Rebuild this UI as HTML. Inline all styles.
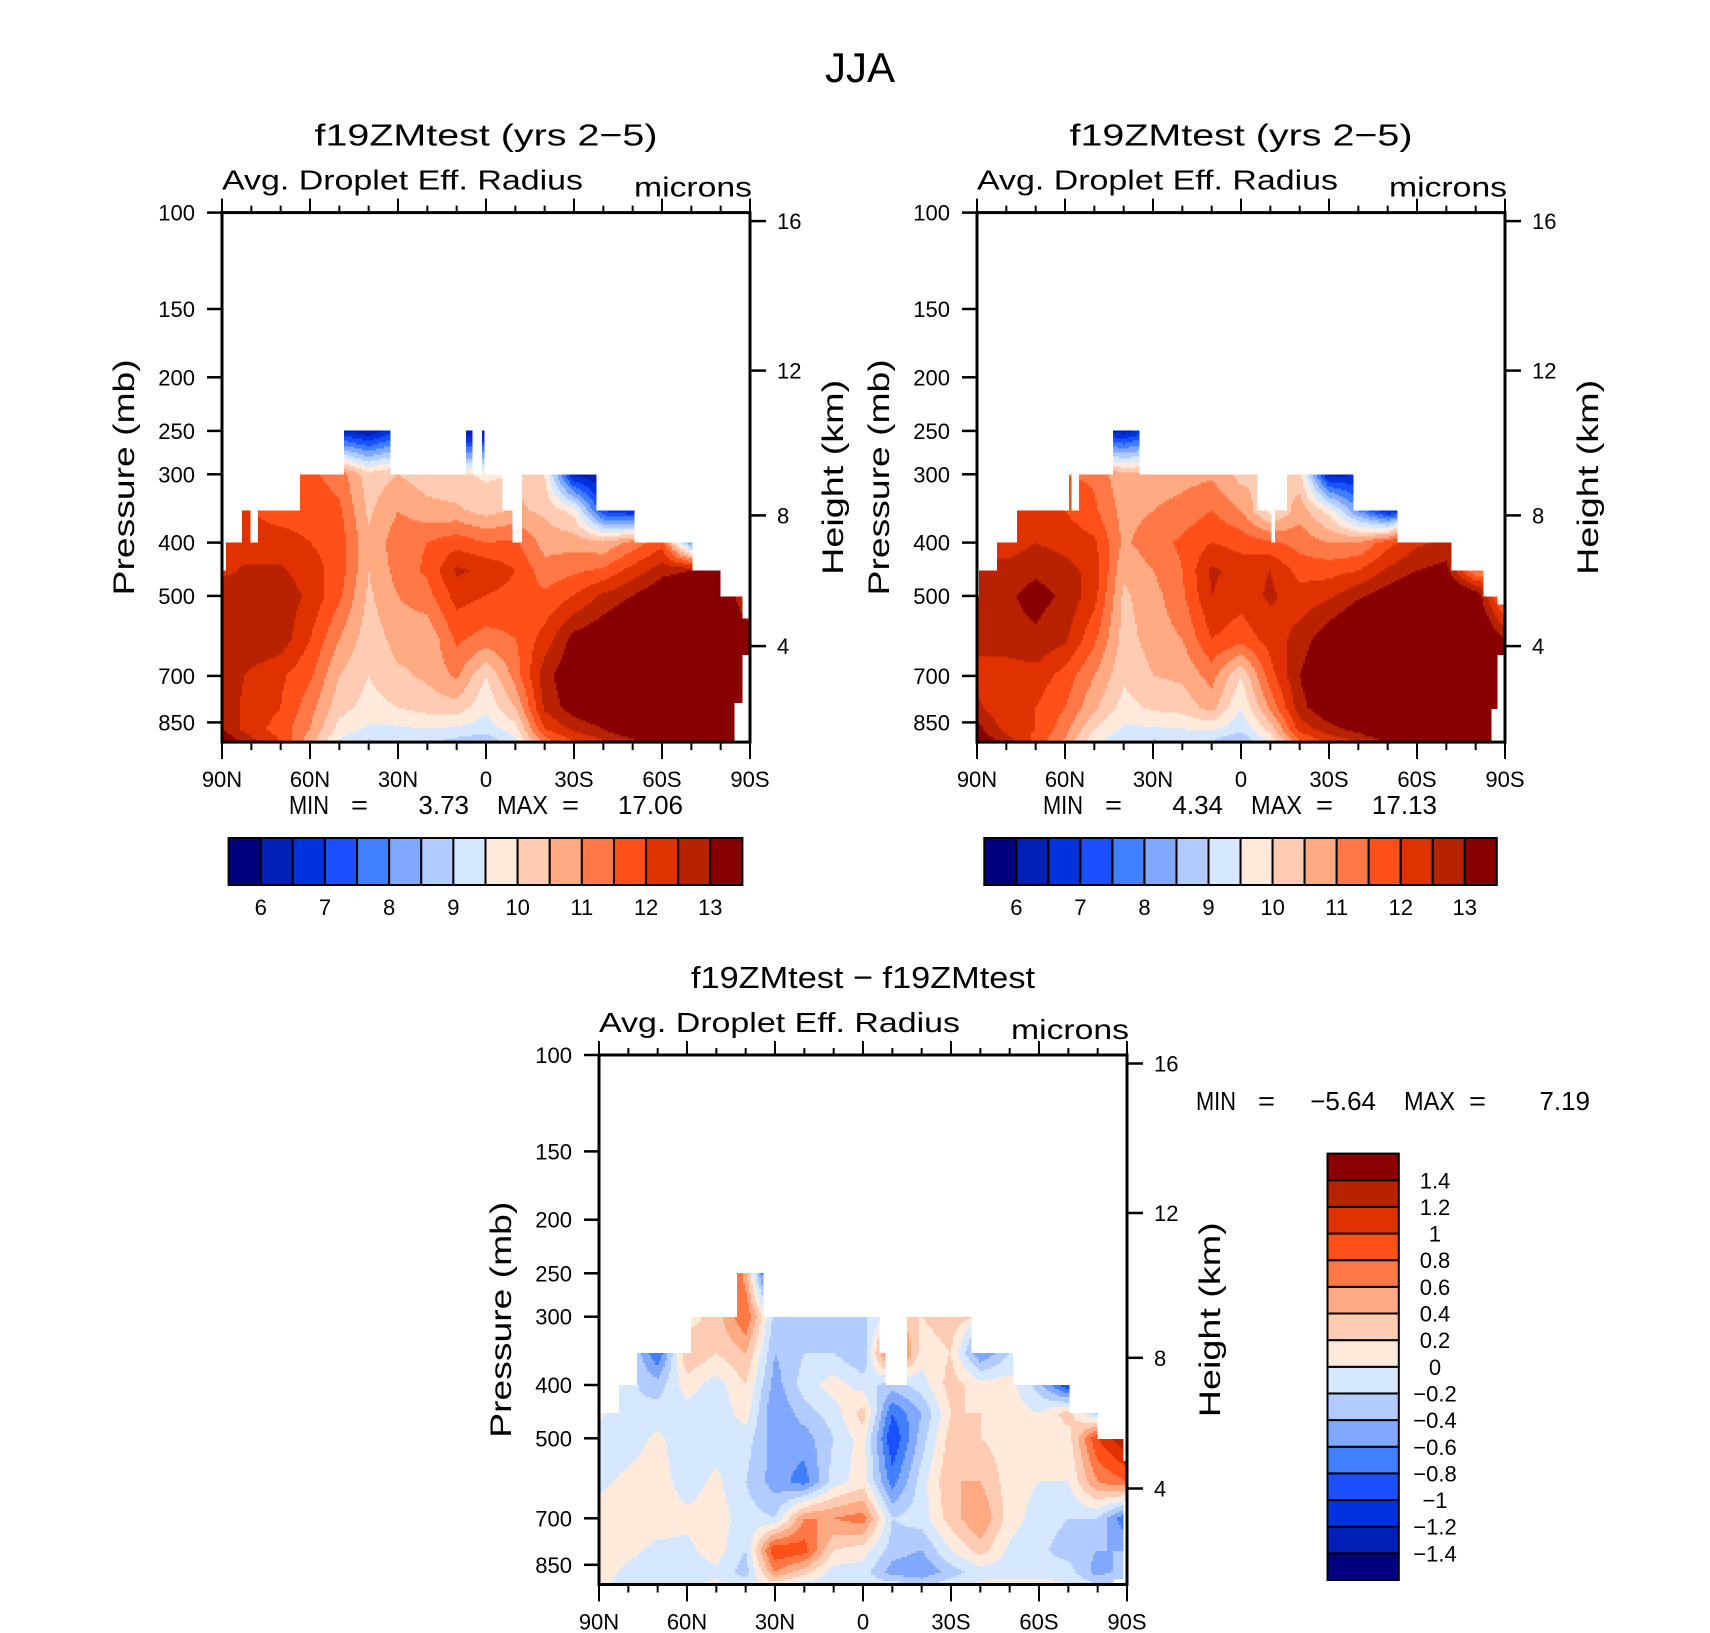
<!DOCTYPE html>
<html><head><meta charset="utf-8"><style>
html,body{margin:0;padding:0;background:#fff;}
svg{display:block;font-family:"Liberation Sans",sans-serif;}
</style></head><body>
<svg id="fig" xmlns="http://www.w3.org/2000/svg" width="1710" height="1633" viewBox="0 0 1710 1633">
<rect x="0" y="0" width="1710" height="1633" fill="#fff"/>
<text x="860" y="82" font-size="42" text-anchor="middle">JJA</text>
</svg>
<script>
const NS="http://www.w3.org/2000/svg";
const svg=document.getElementById('fig');
const n=null;
const LATS=[90,80,70,60,50,40,30,20,10,0,-10,-20,-30,-40,-50,-60,-70,-80,-90];
const LEVELS=[250,300,350,400,450,500,600,700,800,900,1000];
const P_TICKS=[100,150,200,250,300,400,500,700,850];
const KM_TICKS=[16,12,8,4];
const LAT_MAJOR=[90,60,30,0,-30,-60,-90];
const LAT_LABELS=['90N','60N','30N','0','30S','60S','90S'];
const COLORS=['#00007f','#0020b8','#0033dd','#1a50ff','#4080ff','#80a8ff','#b3ccff','#d5e8ff','#ffeadc','#ffcbb2','#ffaa82','#ff7845','#ff501a','#e03200','#b82200','#880000'];
const BOUNDS_ABS=[6,6.5,7,7.5,8,8.5,9,9.5,10,10.5,11,11.5,12,12.5,13];
const CB_ABS_LABELS=['6','7','8','9','10','11','12','13'];
const BOUNDS_DIFF=[-1.4,-1.2,-1,-0.8,-0.6,-0.4,-0.2,0,0.2,0.4,0.6,0.8,1,1.2,1.4];
const CB_DIFF_LABELS=['−1.4','−1.2','−1','−0.8','−0.6','−0.4','−0.2','0','0.2','0.4','0.6','0.8','1','1.2','1.4'];
const P1_VALUES=[
[n,n,n,n,12.4,12.8,12.8,12.8,12.8,13.0,13.5],
[n,n,12.0,12.2,12.6,12.8,12.9,12.4,12.3,12.2,12.7],
[n,n,11.8,12.2,12.6,12.8,12.8,12.1,12.0,11.8,12.0],
[n,11.6,11.8,12.0,12.2,12.4,12.0,11.6,11.2,11.0,10.7],
[6.5,11.3,11.6,11.8,11.8,11.6,11.0,10.5,10.2,9.8,9.4],
[6.0,10.2,10.4,10.6,10.5,10.4,10.2,10.0,9.8,9.4,8.9],
[7.0,10.5,11.0,11.3,11.2,11.0,10.7,10.4,10.0,9.4,9.0],
[n,10.2,10.7,11.5,11.6,11.3,10.6,10.6,10.2,9.5,9.0],
[6.0,10.1,10.6,11.8,12.6,12.2,11.6,11.1,10.3,9.4,8.8],
[6.0,9.9,10.3,11.5,12.4,12.0,11.3,10.0,9.6,9.2,8.6],
[n,n,10.6,11.6,12.0,11.8,11.5,11.2,10.5,9.8,9.3],
[n,10.0,10.4,10.8,11.2,11.6,12.2,12.8,12.6,12.0,11.2],
[n,6.3,9.8,10.8,11.4,12.0,13.2,13.5,13.3,12.6,12.0],
[n,6.0,7.0,10.6,11.6,12.6,13.5,13.8,13.6,13.0,12.4],
[n,n,6.5,11.2,12.2,13.0,14,14,14,13.6,12.8],
[n,n,n,11.8,12.8,13.5,14,14,14,14,13.5],
[n,n,n,8.0,13.0,14,14,14,14,14,14],
[n,n,n,n,13.5,14,14,14,14,14,14],
[n,n,n,n,n,12.0,13.5,14,14,14,14]];
const P1_MASK=[[90,88.3,450,1000],[88.3,83.4,400,1000],[83.4,80.7,350,1000],[80.7,77.8,400,1000],[77.8,63.3,350,1000],[63.3,48.4,300,1000],[48.4,32.4,250,1000],[32.4,6.8,300,1000],[6.8,5,250,1000],[5,1.6,300,1000],[1.6,0.4,250,1000],[0.4,-5.3,300,1000],[-5.3,-9.1,350,1000],[-9.1,-12.6,400,1000],[-12.6,-37.4,300,1000],[-37.4,-50.7,350,1000],[-50.7,-70.5,400,1000],[-70.5,-80,450,1000],[-80,-84.7,500,1000],[-84.7,-87.4,500,780],[-87.4,-90.1,550,640]];
const P1_STATS=['3.73','17.06'];
const P2_VALUES=[
[n,n,n,n,12.5,12.8,12.6,12.4,12.6,13.2,13.5],
[n,n,n,12.2,12.7,12.9,12.8,12.2,12.1,12.3,12.8],
[n,n,12.2,12.5,12.9,13.2,12.9,12.3,12.0,12.0,11.8],
[n,n,12.0,12.3,12.7,12.9,12.6,11.8,11.5,11.2,10.9],
[6.5,11.4,11.6,12.1,12.3,12.2,11.6,11.0,10.6,10.0,9.6],
[6.2,10.6,10.8,10.9,10.6,10.4,10.3,10.1,9.8,9.4,9.0],
[7.0,10.7,11.0,11.3,11.0,10.8,10.7,10.5,10.1,9.4,8.9],
[n,10.8,11.2,11.6,11.5,11.4,11.0,10.6,10.2,9.5,8.9],
[n,10.9,11.5,12.0,12.6,12.5,12.0,11.2,10.7,9.6,8.9],
[n,10.3,11.0,11.8,12.3,12.2,11.7,10.0,9.5,9.1,8.5],
[n,n,9.8,11.6,12.5,12.6,12.2,11.8,11.1,10.2,9.6],
[n,10.2,10.8,11.3,11.8,12.2,12.7,13.0,12.8,12.2,11.4],
[n,6.3,9.8,11.0,11.8,12.4,13.4,13.8,13.5,12.8,12.1],
[n,6.5,8.0,11.0,12.0,12.9,14,14,13.8,13.2,12.5],
[n,n,6.5,11.8,12.6,13.3,14,14,14,13.8,13.0],
[n,n,n,12.4,13.0,13.8,14,14,14,14,13.6],
[n,n,n,12.6,13.2,14,14,14,14,14,14],
[n,n,n,n,11.0,13.5,14,14,14,14,14],
[n,n,n,n,n,11.0,13.0,14,14,14,14]];
const P2_MASK=[[90,89.1,500,1000],[89.1,83.5,450,1000],[83.5,76.7,400,1000],[76.7,58.9,350,1000],[58.9,58,300,1000],[58,55.2,350,1000],[55.2,43.8,300,1000],[43.8,34.9,250,1000],[34.9,-5.3,300,1000],[-5.3,-10.3,350,1000],[-10.3,-11.8,400,1000],[-11.8,-15.8,350,1000],[-15.8,-38.2,300,1000],[-38.2,-53.4,350,1000],[-53.4,-71.3,400,1000],[-71.3,-82.6,450,1000],[-82.6,-85.5,500,1000],[-85.5,-87.5,500,800],[-87.5,-90.1,520,640]];
const P2_STATS=['4.34','17.13'];
const P3_VALUES=[
[n,n,n,n,0.05,-0.1,-0.05,0.1,0.15,0.1,0.05],
[n,n,-0.1,-0.15,-0.2,-0.1,0.05,0.1,0.05,-0.05,-0.1],
[n,n,-0.8,-0.3,-0.1,0.05,0.1,0.1,-0.05,-0.1,-0.1],
[n,0.1,0.4,0.1,-0.1,-0.15,-0.1,0.05,-0.05,-0.1,-0.05],
[1.4,0.3,0.2,-0.1,-0.15,-0.1,0.05,0.1,0.1,-0.05,0.05],
[0.5,0.8,0.4,0.2,0.1,-0.1,-0.2,-0.1,-0.2,-0.3,-0.1],
[-1.5,-0.3,-0.4,-0.5,-0.6,-0.5,-0.5,-0.2,1.0,0.6,0.1],
[n,-0.4,-0.2,-0.1,-0.3,-0.5,-0.7,0.6,0.9,0.3,-0.1],
[n,-0.3,-0.2,0.1,-0.1,-0.2,-0.1,0.6,0.2,-0.1,-0.1],
[n,-0.2,-0.4,-0.1,0.3,0.1,0.1,0.7,0.1,-0.1,-0.1],
[n,n,1.0,-0.3,-0.8,-1.0,-0.7,-0.2,-0.3,-0.5,-0.1],
[n,0.2,0.1,-0.1,-0.4,-0.3,-0.1,-0.1,-0.4,-0.6,-0.2],
[n,0.3,0.2,0.3,0.2,0.3,0.4,0.3,0.0,-0.3,-0.1],
[n,n,-0.6,0.1,0.2,0.2,0.4,0.6,0.3,-0.1,0.05],
[n,n,-0.2,0.1,0.1,0.1,0.1,0.1,-0.05,-0.1,0.1],
[n,n,n,-0.3,0.0,0.1,0.0,-0.1,-0.15,-0.1,0.1],
[n,n,n,-1.0,0.3,0.1,0.0,-0.2,-0.3,-0.1,0.0],
[n,n,n,n,-0.3,1.0,0.6,-0.2,-0.4,-0.5,-0.2],
[n,n,n,n,n,1.4,0.8,-0.8,-0.4,-0.3,-0.2]];
const P3_MASK=[[90,83.5,450,1000],[83.5,77,400,1000],[77,58.7,350,1000],[58.7,43,300,1000],[43,34.4,250,1000],[34.4,-5.2,300,1000],[-5.2,-7.8,350,1000],[-7.8,-14.9,400,1000],[-14.9,-37,300,1000],[-37,-50.9,350,1000],[-50.9,-70.4,400,1000],[-70.4,-79.6,450,1000],[-79.6,-85,500,1000],[-85,-88.7,500,960],[-88.7,-90.1,550,650]];
const P3_STATS=['−5.64','7.19'];

const W=528,H=529.5;
function el(tag,attrs,parent){const e=document.createElementNS(NS,tag);for(const k in attrs)e.setAttribute(k,attrs[k]);(parent||svg).appendChild(e);return e;}
function yOfP(p){const P=[100,150,200,250,300,400,500,700,850,1000],O=[0,96.4,164.7,218.3,261.7,330,383.3,463.3,509.8,529.5];
 for(let i=0;i<P.length-1;i++){if(p<=P[i+1]){const t=(Math.log(p)-Math.log(P[i]))/(Math.log(P[i+1])-Math.log(P[i]));return O[i]+t*(O[i+1]-O[i]);}}return H;}
function yOfKm(k){const K=[16,12,8,4],O=[8.5,158,302.8,433.5];const i=K.indexOf(k);return O[i];}
function xOfLat(lat){return (90-lat)/180*W;}
const YL=LEVELS.map(yOfP);
function valueAt(vals,lat,yr){
 let ci=(90-lat)/10;let i0=Math.min(17,Math.max(0,Math.floor(ci)));let tx=Math.min(1,Math.max(0,ci-i0));
 let k=0,ty=0;
 if(yr<=YL[0]){k=0;ty=0;}else{for(k=0;k<YL.length-2;k++){if(yr<=YL[k+1])break;}ty=Math.min(1,(yr-YL[k])/(YL[k+1]-YL[k]));}
 const c=[[vals[i0][k],(1-tx)*(1-ty)],[vals[i0+1][k],tx*(1-ty)],[vals[i0][k+1],(1-tx)*ty],[vals[i0+1][k+1],tx*ty]];
 let s=0,w=0;for(const [v,wt] of c){if(v!==null){s+=v*wt;w+=wt;}}
 if(w<1e-6){for(const [v] of c){if(v!==null)return v;}return null;}return s/w;}
function maskAt(mask,lat){for(const m of mask){if(lat<=m[0]&&lat>m[1])return m;}return mask[mask.length-1];}
function colorIdx(v,bounds){let i=0;while(i<bounds.length&&v>=bounds[i])i++;return i;}

function drawField(x0,y0,vals,mask,bounds,name){
 const g=el('g',{'shape-rendering':'crispEdges'});
 
 
 const step=2,cols=W/step;
 for(let py=0;py<H;py+=step){
  const yr=py+step/2;let runStart=0,runC=null;
  const rowC=[];
  for(let c=0;c<cols;c++){const lat=90-(c*step+step/2)/W*180;const m=maskAt(mask,lat);
   let ci=null;if(yr>=yOfP(m[2])&&yr<=yOfP(m[3])){const v=valueAt(vals,lat,yr);if(v!==null)ci=colorIdx(v,bounds);}rowC.push(ci);}
  rowC.push('end');
  for(let c=0;c<=cols;c++){if(rowC[c]!==runC){if(runC!==null&&runC!=='end'){
     const r=el('rect',{x:x0+runStart*step,y:y0+py,width:(c-runStart)*step+0.4,height:step+0.4,fill:COLORS[runC]},g);
     
     }
    runStart=c;runC=rowC[c];}}
 }
}
function txt(s,x,y,size,anchor,name,len){const t=el('text',{x:x,y:y,'font-size':size,'text-anchor':anchor||'start'});if(len){t.setAttribute('textLength',len);t.setAttribute('lengthAdjust','spacingAndGlyphs');}t.textContent=s;return t;}

function drawAxes(x0,y0,title,stats,prefix){
 const f=el('rect',{x:x0,y:y0,width:W,height:H,fill:'none',stroke:'#000','stroke-width':3});
 
 
 P_TICKS.forEach(p=>{const y=y0+yOfP(p);
  const l=el('line',{x1:x0-15,x2:x0,y1:y,y2:y,stroke:'#000','stroke-width':2.5});
  
  
  txt(String(p),x0-27,y+8,22,'end','pressure-tick-label');});
 KM_TICKS.forEach(k=>{const y=y0+yOfKm(k);
  const l=el('line',{x1:x0+W,x2:x0+W+16,y1:y,y2:y,stroke:'#000','stroke-width':2.5});
  
  
  txt(String(k),x0+W+27,y+8,22,'start','height-tick-label');});
 for(let lat=90;lat>=-90;lat-=10){const x=x0+xOfLat(lat);const major=(lat%30===0);
  const t1=el('line',{x1:x,x2:x,y1:y0,y2:y0-(major?14:7),stroke:'#000','stroke-width':2});
  
  
  const t2=el('line',{x1:x,x2:x,y1:y0+H,y2:y0+H+(major?17:8),stroke:'#000','stroke-width':2});
  
  }
 LAT_MAJOR.forEach((lat,i)=>{txt(LAT_LABELS[i],x0+xOfLat(lat),y0+H+45,22,'middle','lat-tick-label');});
 txt(title,x0+W/2,y0-67,31,'middle',prefix+'-title',title.length>20?344:343);
 txt('Avg. Droplet Eff. Radius',x0,y0-23,28,'start',prefix+'-variable-label',361);
 txt('microns',x0+W+2,y0-16,28,'end',prefix+'-units-label',118);
 const yc=y0+H/2;
 const pt=txt('Pressure (mb)',0,0,30,'middle','y-axis-title',236);pt.setAttribute('transform','translate('+(x0-88)+','+yc+') rotate(-90)');
 const ht=txt('Height (km)',0,0,30,'middle','y2-axis-title',195);ht.setAttribute('transform','translate('+(x0+W+93)+','+yc+') rotate(-90)');
}
function drawStats(x,y,stats,prefix){
 txt('MIN',x,y,26,'start',prefix+'-min-label',40);
 txt('=',x+62,y,26,'start',prefix+'-min-eq',17);
 txt(stats[0],x+180,y,26,'end',prefix+'-min-value');
 txt('MAX',x+208,y,26,'start',prefix+'-max-label',51);
 txt('=',x+273,y,26,'start',prefix+'-max-eq',17);
 txt(stats[1],x+394,y,26,'end',prefix+'-max-value');
}
function drawHBar(x,y,w,h,prefix){
 const bw=w/16;
 COLORS.forEach((c,i)=>{const r=el('rect',{x:x+i*bw,y:y,width:bw,height:h,fill:c,stroke:'#000','stroke-width':2});
  
  });
 CB_ABS_LABELS.forEach((s,i)=>{txt(s,x+(1+2*i)*bw,y+h+30,22,'middle','colorbar-label');});
}
function drawVBar(x,y,w,h){
 const bh=h/16;
 COLORS.forEach((c,i)=>{const r=el('rect',{x:x,y:y+(15-i)*bh,width:w,height:bh,fill:c,stroke:'#000','stroke-width':2});
  
  });
 CB_DIFF_LABELS.forEach((s,i)=>{txt(s,1435,y+(15-i)*bh+8,22,'middle','colorbar-label');});
}

drawField(222,212.6,P1_VALUES,P1_MASK,BOUNDS_ABS,'panel1');
drawAxes(222,212.6,'f19ZMtest (yrs 2−5)',P1_STATS,'panel1');
drawStats(289,814,P1_STATS,'panel1');
drawHBar(228.6,838,513.8,47,'panel1');

drawField(977,212.6,P2_VALUES,P2_MASK,BOUNDS_ABS,'panel2');
drawAxes(977,212.6,'f19ZMtest (yrs 2−5)',P2_STATS,'panel2');
drawStats(1043,814,P2_STATS,'panel2');
drawHBar(984.3,838,512.5,47,'panel2');

drawField(599,1055,P3_VALUES,P3_MASK,BOUNDS_DIFF,'panel3');
drawAxes(599,1055,'f19ZMtest − f19ZMtest',P3_STATS,'panel3');
drawStats(1196,1110,P3_STATS,'panel3');
drawVBar(1327.5,1153.6,71.3,426.4);
</script>
</body></html>
